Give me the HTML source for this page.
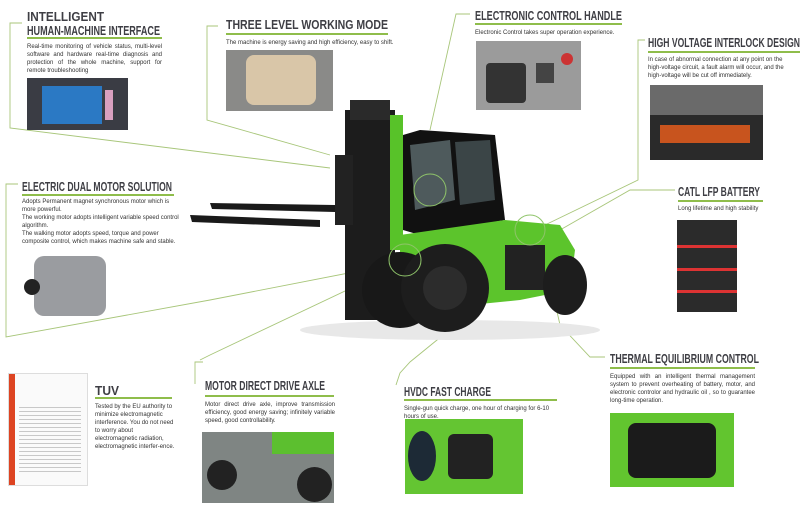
<!DOCTYPE html>
<html><head><meta charset="utf-8"><style>
body{margin:0;width:800px;height:506px;overflow:hidden;background:#fff;font-family:"Liberation Sans",sans-serif;position:relative}
.u{position:absolute;height:2px;background:#8fbd4b}
.p{position:absolute;font-size:6px;line-height:8.1px;color:#333;text-align:justify}
.nw{white-space:nowrap;text-align:left}
.im{position:absolute;overflow:hidden}
svg text{font-family:"Liberation Sans Narrow","Liberation Sans",sans-serif;font-weight:bold;fill:#3e3e44;font-size:13px}
</style></head><body>
<svg width="800" height="506" style="position:absolute;left:0;top:0">
<g stroke="#a8c67a" stroke-width="0.9" fill="none">
<polyline points="22,23 10,23 10,128 330,168"/>
<polyline points="218,26 207,26 207,120 330,155"/>
<polyline points="470,14 456,14 430,130"/>
<polyline points="645,40 638,40 638,180 545,225"/>
<polyline points="18,184 6,184 6,337 210,300 400,263"/>
<polyline points="675,190 630,190 560,230"/>
<polyline points="195,384 195,362 203,362"/>
<polyline points="200,360 210,355 400,265"/>
<polyline points="396,385 400,373 410,362 480,305"/>
<polyline points="605,357 590,357 560,325 550,280"/>
</g>
<g>
<ellipse cx="450" cy="330" rx="150" ry="10" fill="#e8e8e8"/>
<rect x="345" y="110" width="50" height="210" fill="#1c1c1c"/>
<rect x="350" y="100" width="40" height="20" fill="#2a2a2a"/>
<rect x="335" y="155" width="18" height="70" fill="#222"/>
<polygon points="210,203 335,205 335,212 212,209" fill="#1a1a1a"/>
<polygon points="190,215 320,220 320,227 192,222" fill="#1a1a1a"/>
<rect x="390" y="115" width="13" height="135" fill="#58c229"/>
<polygon points="403,135 420,130 495,135 505,220 420,235 403,230" fill="#111"/>
<polygon points="410,145 450,140 455,200 415,210" fill="#4e5a5c"/>
<polygon points="455,142 490,140 495,200 460,205" fill="#3b4547"/>
<polygon points="400,235 505,220 560,225 575,250 570,290 520,300 470,305 400,300" fill="#5cc42c"/>
<rect x="505" y="245" width="40" height="45" fill="#222"/>
<circle cx="400" cy="290" r="38" fill="#181818"/>
<circle cx="445" cy="288" r="44" fill="#1d1d1d"/>
<circle cx="445" cy="288" r="22" fill="#2c2c2c"/>
<ellipse cx="565" cy="285" rx="22" ry="30" fill="#1d1d1d"/>
<circle cx="430" cy="190" r="16" stroke="#8fc46a" stroke-width="1" fill="none"/>
<circle cx="405" cy="260" r="16" stroke="#8fc46a" stroke-width="1" fill="none"/>
<circle cx="530" cy="230" r="15" stroke="#8fc46a" stroke-width="1" fill="none"/>
</g>
<text x="27" y="21" textLength="77" lengthAdjust="spacingAndGlyphs">INTELLIGENT</text>
<text x="27" y="35" textLength="133" lengthAdjust="spacingAndGlyphs">HUMAN-MACHINE INTERFACE</text>
<text x="226" y="29" textLength="162" lengthAdjust="spacingAndGlyphs">THREE LEVEL WORKING MODE</text>
<text x="475" y="20" textLength="147" lengthAdjust="spacingAndGlyphs">ELECTRONIC CONTROL HANDLE</text>
<text x="648" y="47" textLength="152" lengthAdjust="spacingAndGlyphs">HIGH VOLTAGE INTERLOCK DESIGN</text>
<text x="22" y="191" textLength="150" lengthAdjust="spacingAndGlyphs">ELECTRIC DUAL MOTOR SOLUTION</text>
<text x="678" y="196" textLength="82" lengthAdjust="spacingAndGlyphs">CATL LFP BATTERY</text>
<text x="95" y="395" textLength="24" lengthAdjust="spacingAndGlyphs">TUV</text>
<text x="205" y="390" textLength="120" lengthAdjust="spacingAndGlyphs">MOTOR DIRECT DRIVE AXLE</text>
<text x="404" y="396" textLength="87" lengthAdjust="spacingAndGlyphs">HVDC FAST CHARGE</text>
<text x="610" y="363" textLength="149" lengthAdjust="spacingAndGlyphs">THERMAL EQUILIBRIUM CONTROL</text>
</svg>

<div class="u" style="left:27px;top:37px;width:135px"></div>
<div class="p" style="left:27px;top:43px;width:135px">Real-time monitoring of vehicle status, multi-level software and hardware real-time diagnosis and protection of the whole machine, support for remote troubleshooting</div>
<div class="im" style="left:27px;top:78px;width:101px;height:52px;background:#3a3c44"><div style="position:absolute;left:15px;top:8px;width:60px;height:38px;background:#2b79c4"></div><div style="position:absolute;left:78px;top:12px;width:8px;height:30px;background:#d9a0c0"></div></div>

<div class="u" style="left:226px;top:33px;width:162px"></div>
<div class="p nw" style="left:226px;top:39px">The machine is  energy saving and high efficiency, easy to shift.</div>
<div class="im" style="left:226px;top:50px;width:107px;height:61px;background:#8a8a88"><div style="position:absolute;left:20px;top:5px;width:70px;height:50px;background:#d9c6a8;border-radius:8px"></div></div>

<div class="u" style="left:475px;top:23px;width:147px"></div>
<div class="p nw" style="left:475px;top:29px">Electronic Control takes super operation experience.</div>
<div class="im" style="left:476px;top:41px;width:105px;height:69px;background:#9b9b9b"><div style="position:absolute;left:10px;top:22px;width:40px;height:40px;background:#333;border-radius:4px"></div><div style="position:absolute;left:60px;top:22px;width:18px;height:20px;background:#444"></div><div style="position:absolute;left:85px;top:12px;width:12px;height:12px;background:#c33;border-radius:50%"></div></div>

<div class="u" style="left:648px;top:51px;width:152px"></div>
<div class="p" style="left:648px;top:56px;width:148px;text-align:left">In case of abnormal connection at any point on the high-voltage circuit, a fault alarm will occur, and the high-voltage will be cut off immediately.</div>
<div class="im" style="left:650px;top:85px;width:113px;height:75px;background:#2a2a2a"><div style="position:absolute;left:0;top:0;width:113px;height:30px;background:#6a6a6a"></div><div style="position:absolute;left:10px;top:40px;width:90px;height:18px;background:#c8541e"></div></div>

<div class="u" style="left:22px;top:194px;width:152px"></div>
<div class="p" style="left:22px;top:198px;width:160px;text-align:left">Adopts Permanent magnet synchronous motor which is more powerful.<br>The working motor adopts intelligent variable speed control algorithm.<br>The walking motor adopts speed, torque and power composite control, which makes machine safe and stable.</div>
<div class="im" style="left:24px;top:254px;width:84px;height:64px;background:#fff"><div style="position:absolute;left:10px;top:2px;width:72px;height:60px;background:#9a9ca0;border-radius:10px"></div><div style="position:absolute;left:0;top:25px;width:16px;height:16px;background:#222;border-radius:50%"></div></div>

<div class="u" style="left:678px;top:200px;width:85px"></div>
<div class="p nw" style="left:678px;top:205px">Long lifetime and high stability</div>
<div class="im" style="left:677px;top:220px;width:60px;height:92px;background:#2b2b2b"><div style="position:absolute;left:0;top:25px;width:60px;height:3px;background:#d33"></div><div style="position:absolute;left:0;top:48px;width:60px;height:3px;background:#d33"></div><div style="position:absolute;left:0;top:70px;width:60px;height:3px;background:#d33"></div></div>

<div class="im" style="left:8px;top:373px;width:80px;height:113px;background:#fafafa;border:1px solid #ddd;box-sizing:border-box"><div style="position:absolute;left:0;top:0;width:6px;height:113px;background:#d42"></div><div style="position:absolute;left:10px;top:30px;width:62px;height:70px;background:repeating-linear-gradient(#fafafa 0 3px,#c8c8c8 3px 4px)"></div></div>
<div class="u" style="left:95px;top:397px;width:77px"></div>
<div class="p" style="left:95px;top:403px;width:80px;text-align:left">Tested by the EU authority to minimize electromagnetic interference. You do not need to worry about electromagnetic radiation, electromagnetic interfer-ence.</div>

<div class="u" style="left:205px;top:395px;width:129px"></div>
<div class="p" style="left:205px;top:401px;width:130px">Motor direct drive axle, improve transmission efficiency, good energy saving; infinitely variable speed, good controllability.</div>
<div class="im" style="left:202px;top:432px;width:132px;height:71px;background:#7f8583"><div style="position:absolute;left:70px;top:0;width:62px;height:22px;background:#5cbf2f"></div><div style="position:absolute;left:5px;top:28px;width:30px;height:30px;background:#222;border-radius:50%"></div><div style="position:absolute;left:95px;top:35px;width:35px;height:35px;background:#222;border-radius:50%"></div></div>

<div class="u" style="left:404px;top:399px;width:153px"></div>
<div class="p" style="left:404px;top:405px;width:160px;text-align:left">Single-gun quick charge, one hour of charging for 6-10 hours of use.</div>
<div class="im" style="left:405px;top:419px;width:118px;height:75px;background:#64c532"><div style="position:absolute;left:3px;top:12px;width:28px;height:50px;background:#1d2a36;border-radius:50%"></div><div style="position:absolute;left:43px;top:15px;width:45px;height:45px;background:#222;border-radius:6px"></div></div>

<div class="u" style="left:610px;top:367px;width:145px"></div>
<div class="p" style="left:610px;top:373px;width:145px">Equipped with an intelligent thermal management system to prevent overheating of battery, motor, and electronic controlor and hydraulic oil , so to guarantee long-time operation.</div>
<div class="im" style="left:610px;top:413px;width:124px;height:74px;background:#62c52f"><div style="position:absolute;left:18px;top:10px;width:88px;height:55px;background:#1b1b1b;border-radius:8px"></div></div>
</body></html>
